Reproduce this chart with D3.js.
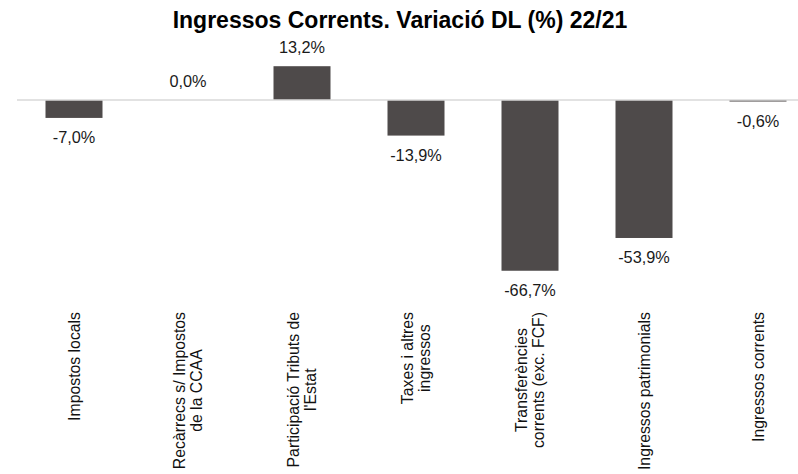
<!DOCTYPE html>
<html>
<head>
<meta charset="utf-8">
<script src="https://cdn.jsdelivr.net/npm/d3@7"></script>
<style>
  html, body { margin: 0; padding: 0; background: #ffffff; }
  svg { display: block; font-family: "Liberation Sans", Arial, sans-serif; }
</style>
</head>
<body>
<svg id="chart" width="798" height="474"></svg>
<script>
const titleText = "Ingressos Corrents. Variació DL (%) 22/21";
const categories = [
  "Impostos locals",
  "Recàrrecs s/ Impostos de la CCAA",
  "Participació Tributs de l'Estat",
  "Taxes i altres ingressos",
  "Transferències corrents (exc. FCF)",
  "Ingressos patrimonials",
  "Ingressos corrents"
];
const categoryLines = [
  ["Impostos locals"],
  ["Recàrrecs s/ Impostos", "de la CCAA"],
  ["Participació Tributs de", "l'Estat"],
  ["Taxes i altres", "ingressos"],
  ["Transferències", "corrents (exc. FCF)"],
  ["Ingressos patrimonials"],
  ["Ingressos corrents"]
];
const values = [-7.0, 0.0, 13.2, -13.9, -66.7, -53.9, -0.6];
const valueLabels = ["-7,0%", "0,0%", "13,2%", "-13,9%", "-66,7%", "-53,9%", "-0,6%"];

const svg = d3.select("#chart");
const W = 798, H = 474;

const x = d3.scaleBand()
  .domain(categories)
  .range([17, 815])
  .paddingInner(0.5)
  .paddingOuter(0.25);

const y = d3.scaleLinear()
  .domain([-70, 15])
  .range([100 + 70 * 2.56, 100 - 15 * 2.56]);

// title
svg.append("text")
  .attr("x", 400)
  .attr("y", 28)
  .attr("text-anchor", "middle")
  .attr("font-size", 23)
  .attr("font-weight", "bold")
  .attr("fill", "#000")
  .text(titleText);

// bars
svg.append("g").selectAll("rect")
  .data(values)
  .join("rect")
  .attr("x", (d, i) => x(categories[i]))
  .attr("width", x.bandwidth())
  .attr("y", d => Math.min(y(d), y(0)))
  .attr("height", d => Math.abs(y(d) - y(0)))
  .attr("fill", "#4e4a4a");

// zero line
svg.append("line")
  .attr("x1", 17)
  .attr("x2", W)
  .attr("y1", y(0))
  .attr("y2", y(0))
  .attr("stroke", "#d9d9d9")
  .attr("stroke-width", 1.5);

// value labels
svg.append("g").selectAll("text")
  .data(values)
  .join("text")
  .attr("x", (d, i) => x(categories[i]) + x.bandwidth() / 2)
  .attr("y", d => d >= 0 ? y(d) - 13.5 : y(d) + 25.5)
  .attr("text-anchor", "middle")
  .attr("font-size", 16.3)
  .attr("fill", "#1a1a1a")
  .text((d, i) => valueLabels[i]);

// category labels (rotated)
const lh = 17;
const fs = 15.8;
const labelTop = 312;
categoryLines.forEach((lines, i) => {
  const cx = x(categories[i]) + x.bandwidth() / 2;
  const g = svg.append("g");
  const texts = lines.map((ln) => g.append("text")
    .attr("font-size", fs)
    .attr("fill", "#111")
    .attr("text-anchor", "middle")
    .text(ln));
  const maxLen = d3.max(texts, t => t.node().getComputedTextLength());
  const cy = labelTop + maxLen / 2;
  g.attr("transform", `translate(${cx},${cy}) rotate(-90)`);
  const n = lines.length;
  texts.forEach((t, j) => {
    t.attr("x", 0).attr("y", 5.5 + (j - (n - 1) / 2) * lh);
  });
});
</script>
</body>
</html>
